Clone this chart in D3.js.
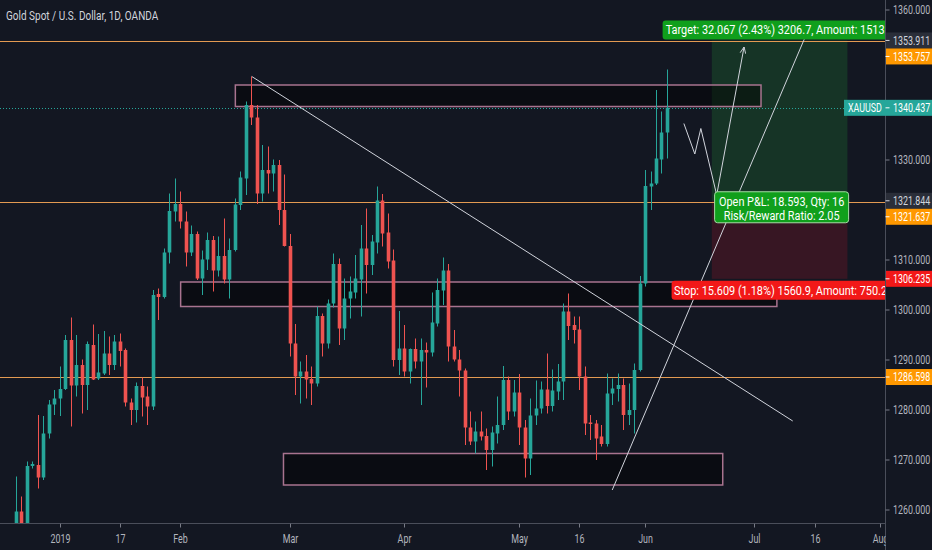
<!DOCTYPE html>
<html>
<head>
<meta charset="utf-8">
<script src="https://cdn.jsdelivr.net/npm/d3@7"></script>
<style>
  body { margin: 0; background: #131722; overflow: hidden; }
  svg { display: block; font-family: "Roboto", "Liberation Sans", sans-serif; }
</style>
</head>
<body>
<script>
// daily candles, XAUUSD (OANDA), from 2018-12-19 to 2019-06-07
var opens = [
  1255, 1259.7, 1256.5, 1268.8, 1269, 1266.5, 1275.3, 1281.1, 1282.3, 1284.2,
  1294, 1284.9, 1289, 1285, 1293, 1286.3, 1287.3, 1291.3, 1289, 1293.7,
  1292, 1281.5, 1280, 1284.8, 1282.7, 1280.7, 1303.2, 1302.6, 1311.5, 1319.7,
  1321.2, 1317.7, 1311.5, 1315.2, 1306.3, 1310.1, 1314, 1307.9, 1310.8, 1306.1,
  1312, 1321, 1326.3, 1341, 1338.5, 1323.3, 1328, 1327.3, 1329, 1320,
  1312.8, 1293.3, 1286.7, 1287.7, 1286.2, 1285.3, 1298.8, 1293.3, 1301.3, 1309.2,
  1296.3, 1302.3, 1303.5, 1306.1, 1312.3, 1309, 1313.5, 1321.9, 1315.5, 1309.9,
  1290, 1292.3, 1287.7, 1292.2, 1289.7, 1292, 1291.5, 1297.3, 1303.9, 1307.9,
  1292.7, 1290.1, 1287.9, 1276.5, 1273.7, 1275.7, 1274.8, 1272, 1275.3, 1277,
  1286, 1279.7, 1283.5, 1276.5, 1270.3, 1278.9, 1280.3, 1284.1, 1280.8, 1283.7,
  1285.7, 1299.7, 1297, 1296.1, 1286.7, 1277.5, 1277.3, 1274.7, 1273.2, 1283.3,
  1284.2, 1285, 1279, 1280, 1288, 1305.3, 1324.7, 1325.3, 1330.1, 1335.5
];
var highs = [
  1266.7, 1262.7, 1269.7, 1269.7, 1279, 1278.8, 1282, 1284, 1288.7, 1295,
  1298.5, 1295, 1290.1, 1293.7, 1297.1, 1295.2, 1295.8, 1294.7, 1295, 1295.3,
  1292.3, 1282.3, 1285.5, 1286.5, 1284.7, 1304, 1304.3, 1312.3, 1323.3, 1326.3,
  1323.7, 1319.7, 1316.9, 1315.7, 1311.9, 1315.5, 1314.8, 1314.7, 1318.3, 1314.3,
  1322.3, 1327.7, 1341.7, 1346.7, 1341, 1333, 1332.7, 1330.1, 1330, 1327.1,
  1315.2, 1297.2, 1289.7, 1291, 1288.7, 1300.7, 1299.3, 1302.1, 1311.3, 1310.3,
  1306.3, 1306.7, 1311, 1317, 1320.3, 1315, 1324.7, 1323.2, 1319.3, 1312.1,
  1299.8, 1297, 1292.3, 1294.3, 1294.3, 1293.5, 1303.5, 1306.3, 1310.5, 1309.2,
  1296, 1292, 1288.3, 1279.7, 1277.7, 1279.7, 1276.3, 1276.7, 1282.7, 1288.8,
  1286.7, 1286, 1287.2, 1278, 1282.3, 1285.9, 1285.7, 1291.3, 1288.1, 1289.2,
  1301.3, 1303.3, 1298.7, 1298.7, 1288.7, 1279, 1278, 1277, 1287.3, 1286.3,
  1287.3, 1286.3, 1285.3, 1289.3, 1306.8, 1328, 1327.7, 1344, 1339.7, 1348.1
];
var lows = [
  1254, 1255, 1255.5, 1268.3, 1264.3, 1266, 1274.3, 1279, 1278.8, 1284,
  1276.7, 1282.7, 1279.3, 1280, 1286, 1286, 1287, 1287, 1288, 1288.7,
  1280.7, 1277, 1277.5, 1278.7, 1277, 1280, 1298, 1302.3, 1309.3, 1317.7,
  1316.3, 1308.7, 1310.8, 1306, 1303, 1308, 1303.7, 1306.7, 1305.3, 1302.3,
  1311.7, 1320, 1323, 1337, 1321.2, 1321.7, 1323.3, 1323.7, 1317, 1312.7,
  1290.7, 1283, 1281.3, 1282.3, 1281, 1284.7, 1290.7, 1292.3, 1300.5, 1293,
  1294, 1298.3, 1302.3, 1298.7, 1303.3, 1307, 1311.3, 1312.7, 1308.3, 1288.7,
  1287, 1286.7, 1285.3, 1288.3, 1281, 1284.5, 1290.7, 1296.7, 1301, 1289.7,
  1289.7, 1282.7, 1273, 1273, 1271.3, 1273.9, 1268, 1268.7, 1273.3, 1276,
  1278, 1278.7, 1273, 1266.5, 1267, 1277, 1279.3, 1279.3, 1279.7, 1282,
  1282, 1294, 1293.3, 1284, 1275, 1274, 1270, 1272.7, 1272.7, 1281,
  1281.7, 1276, 1277, 1275.3, 1287.7, 1304.7, 1320, 1325, 1327.3, 1330.3
];
var closes = [
  1259.7, 1256.5, 1268.8, 1269.2, 1266.5, 1275.3, 1281.1, 1282.3, 1284.2, 1294,
  1284.9, 1289, 1285, 1293.2, 1286.1, 1287.5, 1291.3, 1289, 1293.7, 1291.8,
  1281.5, 1280, 1284.8, 1282.5, 1280.7, 1303, 1302.6, 1311.5, 1319.8, 1321.2,
  1317.7, 1311.5, 1315.2, 1306.3, 1310.1, 1314, 1307.9, 1310.8, 1306.1, 1312,
  1321.1, 1326.5, 1341, 1338.5, 1323.3, 1328, 1327.3, 1329, 1320, 1312.8,
  1293.3, 1286.7, 1287.7, 1286.1, 1285.3, 1298.8, 1293.3, 1301.3, 1309.2, 1296.3,
  1302.3, 1303.7, 1306.3, 1312.3, 1309, 1313.7, 1321.9, 1315.3, 1309.7, 1290,
  1292.3, 1287.7, 1292.2, 1289.7, 1292, 1291.5, 1297.5, 1304, 1307.9, 1292.7,
  1290.1, 1287.9, 1276.5, 1273.7, 1275.7, 1274.7, 1272, 1275.5, 1277, 1286,
  1279.7, 1283.5, 1276.5, 1270.3, 1278.9, 1280.3, 1284.1, 1280.8, 1283.9, 1285.7,
  1299.7, 1296.8, 1296, 1286.7, 1277.3, 1277.2, 1274.3, 1273.2, 1283.3, 1284.3,
  1285, 1279, 1280, 1288, 1305.3, 1324.8, 1325.3, 1330.3, 1335.5, 1340.437
];

var firstDay = "2018-12-19";
var holidays = ["2018-12-25", "2019-01-01", "2019-04-19"];
var tickDays = ["2019-01-02", "2019-01-17", "2019-02-01", "2019-03-01", "2019-04-01", "2019-05-01",
                "2019-05-16", "2019-06-03", "2019-07-01", "2019-07-16", "2019-08-01"];
var tickNames = ["2019", "17", "Feb", "Mar", "Apr", "May", "16", "Jun", "Jul", "16", "Aug"];

var hLines = [1353.757, 1321.637, 1286.598];
var lastPrice = 1340.437;
var entry = 1321.844, target = 1353.911, stop = 1306.235;
var targetText = "Target: 32.067 (2.43%) 3206.7, Amount: 1513.3";
var stopText = "Stop: 15.609 (1.18%) 1560.9, Amount: 750.24";
var pnlText = ["Open P&L: 18.593, Qty: 16", "Risk/Reward Ratio: 2.05"];

// drawings in [bar index, price]
var boxes = [[40.1, 136.2, 1345, 1340.7], [30.1, 139.1, 1305.6, 1300.7], [48.9, 129.2, 1271.3, 1265]];
var trendLines = [[[43.1, 1346.7], [142, 1277.8]], [[109, 1264], [144.2, 1354.4]]];
var pathPts = [[122.1, 1337.3], [124.1, 1331.2], [125.2, 1336.3], [128.1, 1323], [133.1, 1352.6]];
var posFrom = 127.2, posTo = 152;

// trading days (weekdays without the feed's holidays)
var days = [];
var dt = new Date(firstDay + "T00:00:00Z");
while (days.length < 170) {
  var s = dt.toISOString().slice(0, 10), wd = dt.getUTCDay();
  if (wd > 0 && wd < 6 && holidays.indexOf(s) < 0) days.push(s);
  dt.setUTCDate(dt.getUTCDate() + 1);
}

var W = 932, H = 550, axisX = 885.5, axisY = 523.5;
var bg = "#131722", up = "#26a69a", down = "#ef5350", textCol = "#b2b5be";

var x = d3.scaleLinear().domain([0, 160]).range([16, 16 + 160 * 5.47]);
var y = d3.scaleLinear().domain([1260, 1360]).range([510, 10]);

var svg = d3.select("body").append("svg").attr("width", W).attr("height", H);
svg.append("rect").attr("width", W).attr("height", H).attr("fill", bg);

// narrow text helper (the chart's font is a condensed one)
function txt(parent, tx, ty, str, size, fill, anchor, sx) {
  return parent.append("g").attr("transform", "translate(" + tx + "," + ty + ") scale(" + (sx || 0.74) + ",1)")
    .append("text").attr("text-anchor", anchor || "start").attr("font-size", size)
    .attr("fill", fill).text(str);
}

var defs = svg.append("defs");
defs.append("clipPath").attr("id", "plot").append("rect")
  .attr("x", 0).attr("y", 0).attr("width", axisX).attr("height", axisY);
defs.append("clipPath").attr("id", "xclip").append("rect")
  .attr("x", 0).attr("y", axisY).attr("width", axisX).attr("height", H - axisY);
defs.append("marker").attr("id", "arrow").attr("viewBox", "0 0 10 10")
  .attr("refX", 9).attr("refY", 5).attr("markerWidth", 7).attr("markerHeight", 7)
  .attr("orient", "auto").append("path")
  .attr("d", "M0,1 L9,5 L0,9").attr("fill", "none").attr("stroke", "#d1d4dc").attr("stroke-width", 1.3);

var plot = svg.append("g").attr("clip-path", "url(#plot)");

// long position zones
plot.append("rect").attr("x", x(posFrom)).attr("width", x(posTo) - x(posFrom))
  .attr("y", y(target)).attr("height", y(entry) - y(target)).attr("fill", "rgba(30,140,50,0.25)");
plot.append("rect").attr("x", x(posFrom)).attr("width", x(posTo) - x(posFrom))
  .attr("y", y(entry)).attr("height", y(stop) - y(entry)).attr("fill", "rgba(200,20,40,0.2)");

// boxes
plot.selectAll(".box").data(boxes).enter().append("rect")
  .attr("x", function (d) { return x(d[0]); })
  .attr("width", function (d) { return x(d[1]) - x(d[0]); })
  .attr("y", function (d) { return y(d[2]); })
  .attr("height", function (d) { return y(d[3]) - y(d[2]); })
  .attr("fill", "rgba(0,0,0,0.45)").attr("stroke", "#a8738f").attr("stroke-width", 1.5);

// horizontal lines
plot.selectAll(".hl").data(hLines).enter().append("line")
  .attr("x1", 0).attr("x2", axisX)
  .attr("y1", function (d) { return Math.round(y(d)) + 0.5; })
  .attr("y2", function (d) { return Math.round(y(d)) + 0.5; })
  .attr("stroke", "#e39a52").attr("stroke-width", 1.2);

plot.append("line").attr("x1", 0).attr("x2", axisX)
  .attr("y1", Math.round(y(lastPrice)) + 0.5).attr("y2", Math.round(y(lastPrice)) + 0.5)
  .attr("stroke", up).attr("stroke-dasharray", "1,2");

// candles
var idx = d3.range(opens.length);
var candles = plot.selectAll(".c").data(idx).enter().append("g");
candles.append("line")
  .attr("x1", function (i) { return Math.round(x(i)) + 0.5; })
  .attr("x2", function (i) { return Math.round(x(i)) + 0.5; })
  .attr("y1", function (i) { return y(highs[i]); })
  .attr("y2", function (i) { return y(lows[i]); })
  .attr("stroke", function (i) { return closes[i] >= opens[i] ? up : down; });
candles.append("rect")
  .attr("x", function (i) { return Math.round(x(i)) + 0.5 - 1.8; })
  .attr("width", 3.6)
  .attr("y", function (i) { return y(Math.max(opens[i], closes[i])); })
  .attr("height", function (i) { return Math.max(1, Math.abs(y(opens[i]) - y(closes[i]))); })
  .attr("fill", function (i) { return closes[i] >= opens[i] ? up : down; });

// trend lines and projected path
plot.selectAll(".tl").data(trendLines).enter().append("line")
  .attr("x1", function (d) { return x(d[0][0]); }).attr("y1", function (d) { return y(d[0][1]); })
  .attr("x2", function (d) { return x(d[1][0]); }).attr("y2", function (d) { return y(d[1][1]); })
  .attr("stroke", "#d1d4dc").attr("stroke-width", 1);

plot.append("path")
  .attr("d", d3.line().x(function (d) { return x(d[0]); }).y(function (d) { return y(d[1]); })(pathPts))
  .attr("fill", "none").attr("stroke", "#d1d4dc").attr("stroke-width", 1)
  .attr("marker-end", "url(#arrow)");

// position labels
var posMid = (x(posFrom) + x(posTo)) / 2;
function tag(g, cx, yTop, w, h, fill, lines, border, tx) {
  g.append("rect").attr("x", cx - w / 2).attr("y", yTop).attr("width", w).attr("height", h)
    .attr("rx", 3).attr("fill", fill)
    .attr("stroke", border || "none").attr("stroke-width", border ? 1 : 0);
  lines.forEach(function (t, k) {
    txt(g, cx + (tx || 0), yTop + 14 + k * 14, t, 13, "#ffffff", "middle", 0.84);
  });
}
tag(plot, posMid + 4, y(target) - 20, 242, 19, "#109f1c", [targetText], null, -4);
tag(plot, posMid + 4, y(stop) + 2, 224, 19, "#f21818", [stopText]);
tag(plot, posMid + 2, y(entry) - 9, 134, 31, "#109f1c", pnlText, "#a6dca6");

// axes lines
svg.append("line").attr("x1", axisX).attr("x2", axisX).attr("y1", 0).attr("y2", H)
  .attr("stroke", "#4a4e5a");
svg.append("line").attr("x1", 0).attr("x2", axisX).attr("y1", axisY).attr("y2", axisY)
  .attr("stroke", "#4a4e5a");

// price axis labels (with collision push-down)
var tags = [
  { v: target, bg: "#2a2e39", fg: "#d1d4dc" },
  { v: hLines[0], bg: "#ff9800", fg: "#ffffff" },
  { v: lastPrice, bg: up, fg: "#ffffff", name: "XAUUSD" },
  { v: entry, bg: "#2a2e39", fg: "#d1d4dc" },
  { v: hLines[1], bg: "#ff9800", fg: "#ffffff" },
  { v: stop, bg: "#f21818", fg: "#ffffff" },
  { v: hLines[2], bg: "#ff9800", fg: "#ffffff" }
];
tags.forEach(function (t) { t.y = y(t.v); });
tags.sort(function (a, b) { return a.y - b.y; });
for (var k = 1; k < tags.length; k++) {
  if (tags[k].y < tags[k - 1].y + 16) tags[k].y = tags[k - 1].y + 16;
}

var yAxis = svg.append("g");
y.ticks(10).forEach(function (v) {
  var py = y(v);
  var hit = tags.some(function (t) { return Math.abs(t.y - py) < 14; });
  if (hit || py > axisY - 6) return;
  yAxis.append("line").attr("x1", axisX).attr("x2", axisX + 4).attr("y1", py).attr("y2", py)
    .attr("stroke", "#787b86");
  txt(yAxis, 893, py + 4.2, d3.format(".3f")(v), 12, textCol);
});

tags.forEach(function (t) {
  var g = svg.append("g");
  if (t.name) {
    g.append("rect").attr("x", 844).attr("y", t.y - 8).attr("width", W - 844).attr("height", 16).attr("fill", t.bg);
    txt(g, 848, t.y + 4.2, t.name, 12, t.fg);
  } else {
    g.append("rect").attr("x", axisX + 0.5).attr("y", t.y - 8).attr("width", W - axisX).attr("height", 16).attr("fill", t.bg);
  }
  g.append("line").attr("x1", axisX).attr("x2", axisX + 4).attr("y1", t.y).attr("y2", t.y).attr("stroke", t.fg);
  txt(g, 893, t.y + 4.2, d3.format(".3f")(t.v), 12, t.fg);
});

// time axis
var xAxis = svg.append("g").attr("clip-path", "url(#xclip)");
tickDays.forEach(function (d, k) {
  var px = Math.round(x(days.indexOf(d))) + 0.5;
  xAxis.append("line").attr("x1", px).attr("x2", px).attr("y1", axisY).attr("y2", axisY + 4)
    .attr("stroke", "#787b86");
  txt(xAxis, px, 543, tickNames[k], 12, textCol, "middle");
});

// title
txt(svg, 6, 20, "Gold Spot / U.S. Dollar, 1D, OANDA", 13, "#d1d4dc", "start", 0.77);
</script>
</body>
</html>
